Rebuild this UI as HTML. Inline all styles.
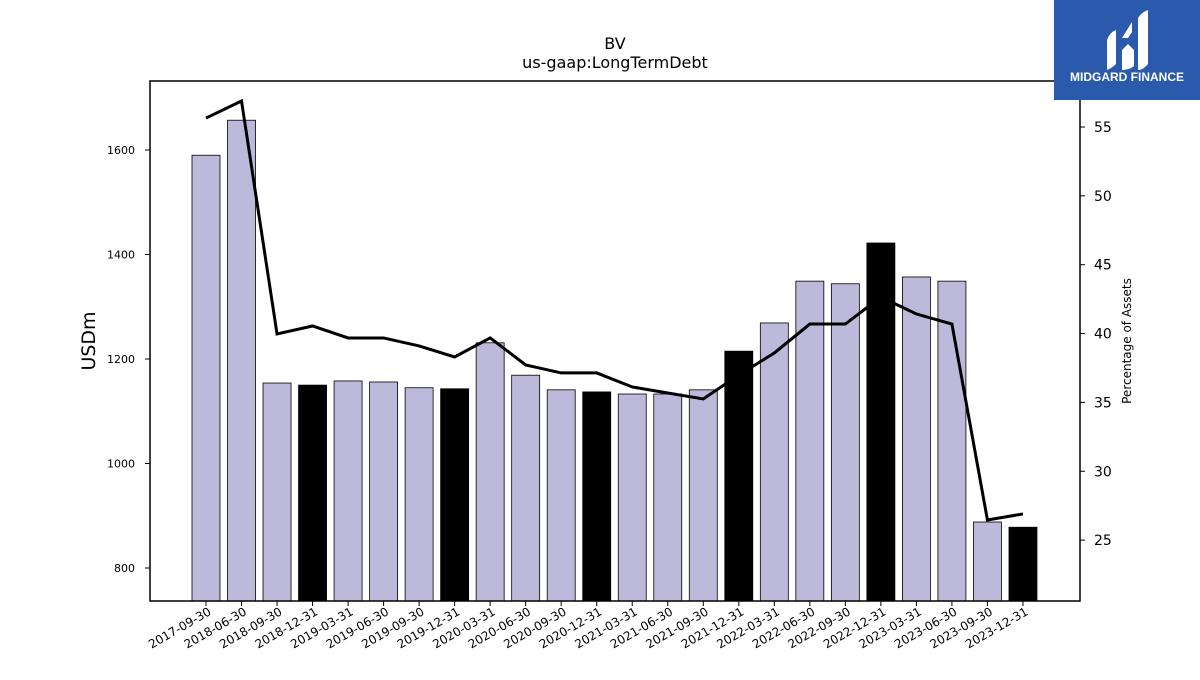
<!DOCTYPE html>
<html><head><meta charset="utf-8"><style>
body{margin:0;background:#fff;font-family:"Liberation Sans","DejaVu Sans",sans-serif}
</style></head><body>
<svg id="c" width="1200" height="675" xmlns="http://www.w3.org/2000/svg" font-family="DejaVu Sans, Liberation Sans, sans-serif">
<text x="615" y="49" font-size="16" text-anchor="middle">BV</text>
<text x="615" y="68" font-size="16" text-anchor="middle">us-gaap:LongTermDebt</text>
<text transform="translate(95,341) rotate(-90)" font-size="19" text-anchor="middle">USDm</text>
<text transform="translate(1131,341) rotate(-90)" font-size="12" text-anchor="middle">Percentage of Assets</text>
<g id="bars"></g><g id="ticks"></g><g id="line"></g>
<rect x="150" y="81" width="930" height="520" fill="none" stroke="#000" stroke-width="1.5"/>
<g>
<rect x="1054" y="0" width="146" height="100" fill="#2b5aad"/>
<path d="M1107 70 L1107 40 Q1110 32 1116 30 L1116 64 Q1112 68 1107 70Z M1122 70 L1122 50 L1128 44 L1134 50 L1134 66 Q1129 70 1122 70Z M1138 70 L1138 18 Q1142 12 1148 10 L1148 64 Q1143 70 1138 70Z M1122 38 L1132 22 L1132 32 L1128 38Z" fill="#fff"/>
<text x="1127" y="81" font-size="12" font-weight="bold" fill="#fff" text-anchor="middle" font-family="Liberation Sans, sans-serif">MIDGARD FINANCE</text>
</g>
</svg>
<script>
const categories=["2017-09-30","2018-06-30","2018-09-30","2018-12-31","2019-03-31","2019-06-30","2019-09-30","2019-12-31","2020-03-31","2020-06-30","2020-09-30","2020-12-31","2021-03-31","2021-06-30","2021-09-30","2021-12-31","2022-03-31","2022-06-30","2022-09-30","2022-12-31","2023-03-31","2023-06-30","2023-09-30","2023-12-31"];
const debtValues=[1590,1657,1154,1150,1158,1156,1145,1143,1231,1169,1141,1137,1133,1133,1141,1215,1269,1349,1344,1422,1357,1349,888,878];
const pctValues=[55.65,56.89,39.97,40.55,39.68,39.68,39.1,38.3,39.68,37.72,37.14,37.14,36.12,35.68,35.25,36.99,38.59,40.69,40.69,42.65,41.42,40.69,26.46,26.9];
const leftTicks=[800,1000,1200,1400,1600];
const rightTicks=[25,30,35,40,45,50,55];
const NS="http://www.w3.org/2000/svg";
const yL=v=>150+(1600-v)*0.5225;
const yR=v=>127+(55-v)*13.77;
const xC=i=>206+i*35.52;
function mk(t,a,p){const e=document.createElementNS(NS,t);for(const k in a)e.setAttribute(k,a[k]);p.appendChild(e);return e;}
const bars=document.getElementById('bars'),ticks=document.getElementById('ticks'),line=document.getElementById('line');
debtValues.forEach((v,i)=>{
 const b=mk('rect',{x:xC(i)-14,y:yL(v),width:28,height:601-yL(v),fill:categories[i].endsWith('12-31')?'#000':'#bdb9da',stroke:'#000','stroke-width':0.8},bars);
 
 
 mk('line',{x1:xC(i),x2:xC(i),y1:601,y2:606,stroke:'#000'},ticks);
 const t=mk('text',{transform:`translate(${xC(i)+6},${614}) rotate(-30)`,'font-size':12,'text-anchor':'end'},ticks);
 t.textContent=categories[i];
 
 
});
leftTicks.forEach(v=>{
 mk('line',{x1:145,x2:150,y1:yL(v),y2:yL(v),stroke:'#000'},ticks);
 const t=mk('text',{x:135,y:yL(v)+4,'font-size':11,'text-anchor':'end'},ticks);t.textContent=v;
 
 
});
rightTicks.forEach(v=>{
 mk('line',{x1:1080,x2:1085,y1:yR(v),y2:yR(v),stroke:'#000'},ticks);
 const t=mk('text',{x:1094,y:yR(v)+5,'font-size':14},ticks);t.textContent=v;
 
 
});
const pl=mk('polyline',{points:pctValues.map((v,i)=>xC(i)+','+yR(v)).join(' '),fill:'none',stroke:'#000','stroke-width':3},line);


</script>
</body></html>
